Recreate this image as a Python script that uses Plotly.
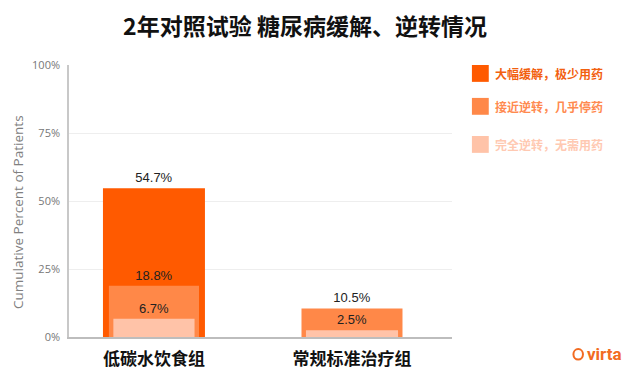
import plotly.graph_objects as go

# ---- data ----
categories = ["低碳水饮食组", "常规标准治疗组"]
series_names = ["大幅缓解，极少用药", "接近逆转，几乎停药", "完全逆转，无需用药"]
series_colors = ["#ff5a00", "#ff8848", "#ffc3a8"]
legend_text_colors = ["#f2600f", "#ff8a50", "#ffc9b2"]
reduced_meds = [54.7, None]      # 大幅缓解
near_reversal = [18.8, 10.5]     # 接近逆转
full_reversal = [6.7, 2.5]       # 完全逆转
series_values = [reduced_meds, near_reversal, full_reversal]
bar_widths = [[0.515, 0.515], [0.455, 0.51], [0.41, 0.465]]
y_ticks = [0, 25, 50, 75, 100]
y_ticktext = ["0%", "25%", "50%", "75%", "100%"]
title_text = "2年对照试验 糖尿病缓解、逆转情况"
y_title = "Cumulative Percent of Patients"

# the page body adds an 8px offset; margins compensate for it
OFF = 8

fig = go.Figure()
for name, color, vals, w in zip(series_names, series_colors, series_values, bar_widths):
    fig.add_trace(go.Bar(
        x=categories, y=vals, name=name, width=w,
        marker=dict(color=color, line=dict(width=0)),
        text=[("" if v is None else f"{v}%") for v in vals],
        textposition="outside",
        textfont=dict(family="Liberation Sans", size=13, color="#222222"),
        cliponaxis=False,
        showlegend=False,
    ))

# custom legend (squares + coloured text)
leg_y = [0.969, 0.848, 0.708]
for name, color, tcol, yy in zip(series_names, series_colors, legend_text_colors, leg_y):
    fig.add_shape(type="rect", xref="paper", yref="paper",
                  x0=1.052, x1=1.096, y0=yy - 0.031, y1=yy + 0.031,
                  fillcolor=color, line=dict(width=0))
    fig.add_annotation(xref="paper", yref="paper", x=1.107, y=yy,
                       xanchor="left", yanchor="middle", showarrow=False,
                       text=name,
                       font=dict(family="Noto Sans CJK SC", size=12, color=tcol, weight="bold"))

# y-axis title
fig.add_annotation(xref="paper", yref="paper", x=-0.133, y=0.46,
                   xanchor="center", yanchor="middle", showarrow=False,
                   textangle=-90, text=y_title, borderpad=0,
                   font=dict(family="Open Sans", size=13.5, color="#808080"))

# virta logo
fig.add_shape(type="circle", xref="paper", yref="paper",
              x0=1.317, x1=1.342, y0=-0.0445, y1=-0.083,
              line=dict(color="#f26b21", width=2), fillcolor="rgba(0,0,0,0)")
fig.add_annotation(xref="paper", yref="paper", x=1.347, y=-0.064,
                   xanchor="left", yanchor="middle", showarrow=False,
                   text="virta",
                   font=dict(family="Roboto", size=17, color="#f26b21", weight="bold"))

fig.update_layout(
    width=640, height=376,
    margin=dict(l=69 - OFF, r=188 + OFF, t=65 - OFF, b=39 + OFF),
    paper_bgcolor="white", plot_bgcolor="white",
    barmode="overlay",
    title=dict(text=title_text, x=297 / 640, xanchor="center",
               y=1 - (27 - OFF) / 376, yanchor="middle", yref="container",
               font=dict(family="Noto Sans CJK SC", size=23, color="#111111", weight="bold")),
    font=dict(family="Open Sans"),
)
fig.update_xaxes(
    type="category", range=[-0.429, 1.505], automargin=False,
    showgrid=False, showline=True, linecolor="#bdbdbd", linewidth=1.5,
    ticks="", ticklabelstandoff=6,
    tickfont=dict(family="Noto Sans CJK SC", size=17, color="#111111", weight="bold"),
    fixedrange=True,
)
fig.update_yaxes(
    range=[0, 100], tickvals=y_ticks, ticktext=y_ticktext, automargin=False,
    showgrid=True, gridcolor="#eeeeee", gridwidth=1,
    showline=True, linecolor="#c8c8c8", linewidth=1.5,
    zeroline=False, ticks="", ticklabelstandoff=5,
    tickfont=dict(family="Open Sans", size=11, color="#777777"),
    fixedrange=True,
)
fig.write_html("out.html")
